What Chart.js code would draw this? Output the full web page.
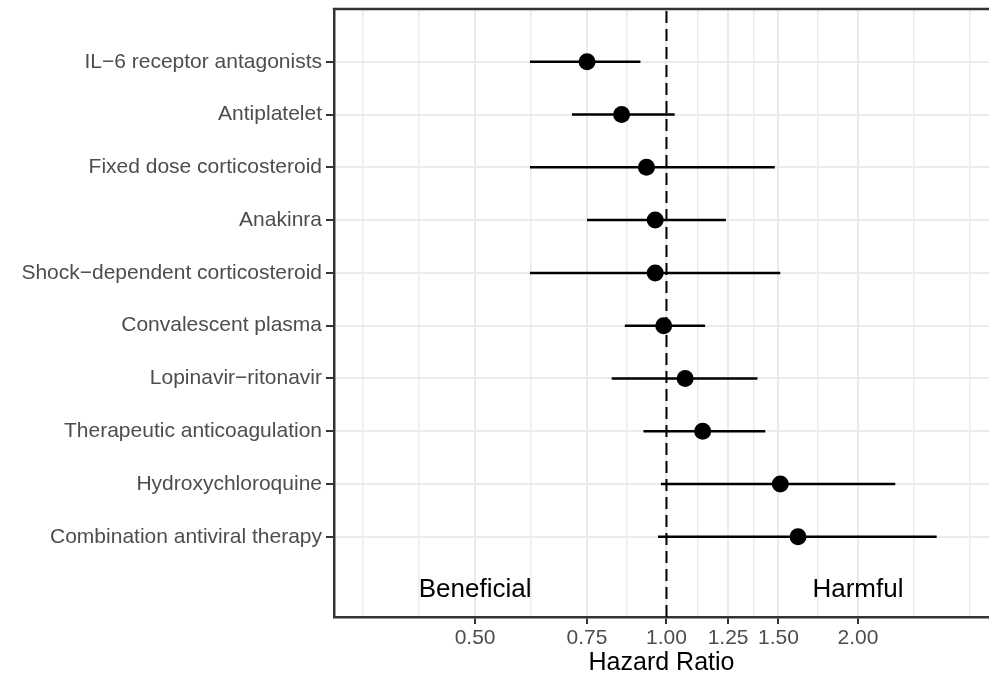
<!DOCTYPE html>
<html>
<head>
<meta charset="utf-8">
<script src="https://cdn.jsdelivr.net/npm/chart.js@4"></script>
<style>
  html, body { margin: 0; padding: 0; background: #fff; overflow: hidden; }
  #wrap { width: 989px; height: 682px; }
</style>
</head>
<body>
<div id="wrap"><canvas id="chart"></canvas></div>
<script>
const treatments = [
  "IL\u22126 receptor antagonists",
  "Antiplatelet",
  "Fixed dose corticosteroid",
  "Anakinra",
  "Shock\u2212dependent corticosteroid",
  "Convalescent plasma",
  "Lopinavir\u2212ritonavir",
  "Therapeutic anticoagulation",
  "Hydroxychloroquine",
  "Combination antiviral therapy"
];
const hazardRatio = [0.75, 0.85, 0.93, 0.96, 0.96, 0.99, 1.07, 1.14, 1.51, 1.61];
const ciLower     = [0.61, 0.71, 0.61, 0.75, 0.61, 0.86, 0.82, 0.92, 0.98, 0.97];
const ciUpper     = [0.91, 1.03, 1.48, 1.24, 1.51, 1.15, 1.39, 1.43, 2.29, 2.66];
const xTicks = [0.5, 0.75, 1, 1.25, 1.5, 2];
const sideLabels = ["Beneficial", "Harmful"];
const sideLabelX = [0.5, 2];

const FONT = "'Liberation Sans', Arial, sans-serif";
const rowY = i => treatments.length - i;

// grid lines like ggplot: majors plus midpoints (log space), one step beyond each end
const step = xTicks[1] / xTicks[0];
const ext = [xTicks[0] / step, ...xTicks, xTicks[xTicks.length - 1] * step];
const gridValues = [];
for (let i = 0; i < ext.length - 1; i++) {
  gridValues.push(ext[i], Math.sqrt(ext[i] * ext[i + 1]));
}
gridValues.push(ext[ext.length - 1]);
const isMajor = v => xTicks.some(t => Math.abs(t - v) < 1e-9);

const datasets = [{
  data: hazardRatio.map((v, i) => ({ x: v, y: rowY(i) })),
  backgroundColor: "#000",
  borderWidth: 0,
  pointRadius: 8.5
}];
treatments.forEach((t, i) => {
  datasets.push({
    data: [{ x: ciLower[i], y: rowY(i) }, { x: ciUpper[i], y: rowY(i) }],
    showLine: true,
    borderColor: "#000",
    borderWidth: 2.5,
    pointRadius: 0
  });
});
datasets.push({
  data: [{ x: 1, y: -0.52 }, { x: 1, y: 11 }],
  showLine: true,
  borderColor: "#000",
  borderWidth: 2,
  borderDash: [12, 6],
  pointRadius: 0
});

const extras = {
  id: "extras",
  afterDatasetsDraw(chart) {
    const { ctx, chartArea, scales } = chart;
    ctx.save();
    ctx.strokeStyle = "#333";
    ctx.lineWidth = 2.5;
    ctx.beginPath();
    ctx.moveTo(chartArea.left - 1.25, chartArea.top);
    ctx.lineTo(chartArea.right, chartArea.top);
    ctx.stroke();
    ctx.fillStyle = "#000";
    ctx.font = "26px " + FONT;
    ctx.textAlign = "center";
    ctx.textBaseline = "middle";
    sideLabels.forEach((s, i) => {
      ctx.fillText(s, scales.x.getPixelForValue(sideLabelX[i]), scales.y.getPixelForValue(0));
    });
    ctx.restore();
  }
};

new Chart(document.getElementById("chart"), {
  type: "scatter",
  data: { datasets },
  plugins: [extras],
  options: {
    responsive: true,
    maintainAspectRatio: false,
    animation: false,
    layout: { autoPadding: false, padding: { top: 9, right: 0, left: 0, bottom: 0 } },
    plugins: { legend: { display: false }, tooltip: { enabled: false } },
    scales: {
      x: {
        type: "logarithmic",
        min: 0.3014,
        max: 3.215,
        afterBuildTicks: s => { s.ticks = gridValues.map(v => ({ value: v })); },
        afterFit: s => { s.height = 65; s.paddingLeft = 0; s.paddingRight = 0; },
        ticks: {
          autoSkip: false,
          maxRotation: 0,
          padding: 2,
          color: "#4D4D4D",
          font: { family: FONT, size: 21 },
          callback: v => isMajor(v) ? v.toFixed(2) : ""
        },
        grid: {
          color: "#EBEBEB",
          lineWidth: c => (c.tick && isMajor(c.tick.value)) ? 2 : 1.5,
          tickColor: c => (c.tick && isMajor(c.tick.value)) ? "#333" : "rgba(0,0,0,0)",
          tickLength: 7,
          tickWidth: 2
        },
        border: { color: "#333", width: 2.5 },
        title: {
          display: true,
          text: "Hazard Ratio",
          color: "#000",
          font: { family: FONT, size: 25 },
          padding: { top: 0, bottom: 4 }
        }
      },
      y: {
        type: "linear",
        min: -0.52,
        max: 11,
        afterBuildTicks: s => { s.ticks = treatments.map((t, i) => ({ value: rowY(i) })); },
        afterFit: s => { s.width = 334; s.paddingTop = 0; s.paddingBottom = 0; },
        ticks: {
          autoSkip: false,
          padding: 4,
          color: "#4D4D4D",
          font: { family: FONT, size: 21 },
          callback: v => treatments[treatments.length - v] || ""
        },
        grid: {
          color: "#EBEBEB",
          lineWidth: 2,
          tickColor: "#333",
          tickLength: 8,
          tickWidth: 2
        },
        border: { color: "#333", width: 2.5 }
      }
    }
  }
});
</script>
</body>
</html>
